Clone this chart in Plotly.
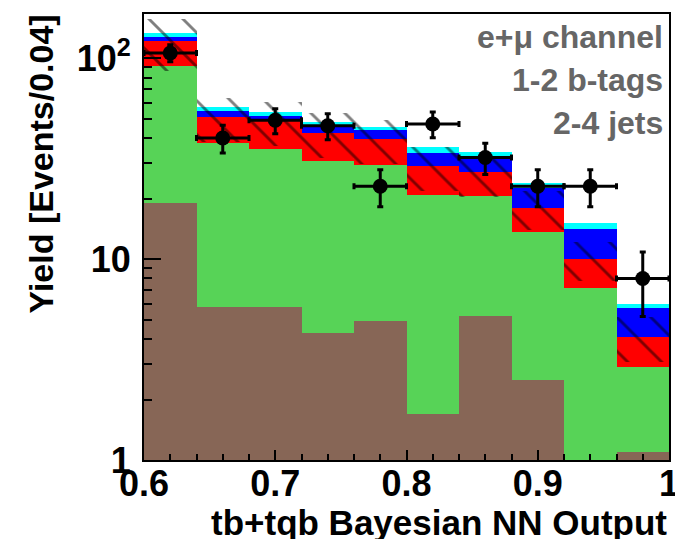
import numpy as np
import plotly.graph_objects as go

# Bin edges of the NN output histogram (width 0.04)
bin_edges = [0.60, 0.64, 0.68, 0.72, 0.76, 0.80, 0.84, 0.88, 0.92, 0.96, 1.00]

# Expected yields per bin, stacked bottom to top
multijets = [19.0, 5.8, 5.8, 4.3, 4.9, 1.7, 5.2, 2.5, 0.0, 1.1]
wjets = [72.2, 32.0, 29.5, 26.4, 24.6, 19.1, 15.4, 11.1, 7.2, 1.8]
ttbar = [30.3, 13.1, 13.3, 11.7, 9.9, 8.2, 6.5, 4.3, 2.8, 1.2]
tqb = [5.5, 3.6, 2.9, 3.0, 4.3, 4.7, 5.4, 4.7, 4.1, 1.6]
tb = [6.0, 2.5, 2.4, 2.7, 1.9, 2.4, 1.7, 1.3, 1.0, 0.3]

# Relative uncertainty on the summed background
bkg_unc = [0.29, 0.25, 0.25, 0.25, 0.25, 0.25, 0.25, 0.22, 0.22, 0.25]

# Observed data counts
data_counts = [106, 40, 49, 46, 23, 47, 32, 23, 23, 8]

x_ticks = [0.6, 0.7, 0.8, 0.9, 1.0]
x_tick_text = ["0.6", "0.7", "0.8", "0.9", "1"]
y_ticks = [1, 10, 100]
y_tick_text = ["1", "10", "10<sup>2</sup>"]

labels = ["e+\u03bc channel", "1-2 b-tags", "2-4 jets"]

edges = np.array(bin_edges)
centers = 0.5 * (edges[:-1] + edges[1:])
widths = np.diff(edges)

layers = [
    ("Multijets", multijets, "#876656"),
    ("W+jets", wjets, "#57d357"),
    ("ttbar", ttbar, "#ff0000"),
    ("tqb", tqb, "#0000ff"),
    ("tb", tb, "#00ffff"),
]
cum = np.cumsum([np.array(v, dtype=float) for _, v, _ in layers], axis=0)

fig = go.Figure()

# Draw cumulative stacks from the tallest down so each lower one overlays
for i in range(len(layers) - 1, -1, -1):
    name, _, color = layers[i]
    fig.add_trace(go.Bar(
        x=centers, y=cum[i], width=widths, name=name,
        marker=dict(color=color, line=dict(width=0)),
        showlegend=False, hoverinfo="skip",
    ))

# Hatched background uncertainty band
bkg = cum[2]
unc = np.array(bkg_unc)
fig.add_trace(go.Bar(
    x=centers, y=2 * unc * bkg, base=bkg * (1 - unc), width=widths,
    marker=dict(
        color="rgba(0,0,0,0)", line=dict(width=0),
        pattern=dict(shape="\\", fgcolor="black", bgcolor="rgba(0,0,0,0)",
                     size=24, solidity=0.12, fillmode="overlay"),
    ),
    showlegend=False, hoverinfo="skip",
))

# Data points with Poisson errors
counts = np.array(data_counts, dtype=float)
fig.add_trace(go.Scatter(
    x=centers, y=counts, mode="markers",
    marker=dict(color="black", size=15, symbol="circle"),
    error_y=dict(type="data", array=np.sqrt(counts), color="black",
                 thickness=3, width=3),
    error_x=dict(type="data", array=widths / 2, color="black",
                 thickness=3, width=3),
    showlegend=False,
))

font_family = "Liberation Sans, Arial, sans-serif"

fig.update_layout(
    width=675, height=539,
    margin=dict(l=144, r=6, t=14, b=79),
    paper_bgcolor="white", plot_bgcolor="white",
    barmode="overlay", bargap=0,
    font=dict(family=font_family, color="black", size=36, weight="bold"),
    showlegend=False,
)

fig.update_xaxes(
    range=[0.6, 1.0], tickvals=x_ticks, ticktext=x_tick_text,
    ticks="inside", ticklen=10, tickwidth=1.5, tickcolor="black",
    minor=dict(ticks="inside", ticklen=6, dtick=0.02, tickcolor="black",
               tickwidth=1.5),
    showline=True, linecolor="black", linewidth=2, mirror=True,
    showgrid=False, zeroline=False, layer="above traces",
    tickfont=dict(size=36, family=font_family, weight="bold"),
    ticklabelstandoff=-9, ticklabeloverflow="allow", automargin=False,
)

fig.update_yaxes(
    type="log", range=[0, np.log10(165.6)],
    tickvals=y_ticks, ticktext=y_tick_text,
    ticks="inside", ticklen=17, tickwidth=1.5, tickcolor="black",
    minor=dict(ticks="inside", ticklen=8, dtick="D1", tickcolor="black",
               tickwidth=1.5),
    showline=True, linecolor="black", linewidth=2, mirror=True,
    showgrid=False, zeroline=False, layer="above traces",
    tickfont=dict(size=36, family=font_family, weight="bold"),
    ticklabelstandoff=4, automargin=False,
)

# Axis titles placed at the far ends of the axes
fig.add_annotation(
    text="tb+tqb Bayesian NN Output", xref="paper", yref="paper",
    x=1, y=0, xanchor="right", yanchor="top", yshift=-41, xshift=0,
    showarrow=False, font=dict(size=35, family=font_family, weight="bold"),
)
fig.add_annotation(
    text="Yield [Events/0.04]", xref="paper", yref="paper",
    x=0, y=1, xanchor="center", yanchor="top", xshift=-104, yshift=1,
    textangle=-90, showarrow=False,
    font=dict(size=34, family=font_family, weight="bold"),
)

# Selection labels
for i, txt in enumerate(labels):
    fig.add_annotation(
        text=txt, xref="paper", yref="paper", x=1, y=1,
        xanchor="right", yanchor="middle", xshift=-4, yshift=-(23 + 43 * i),
        showarrow=False,
        font=dict(size=32, family=font_family, weight="bold", color="#666666"),
    )

fig.write_html("out.html")
